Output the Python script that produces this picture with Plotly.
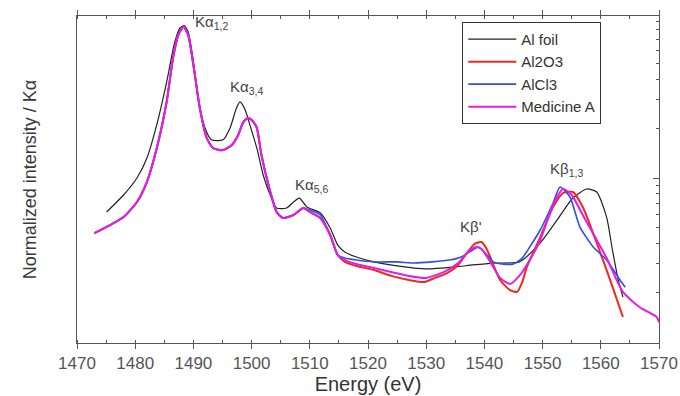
import plotly.graph_objects as go

# ---------------- data ----------------
foil_E = [1475.1, 1478, 1480.3, 1482, 1483.7, 1485.4, 1486.8, 1487.7, 1488.4, 1489.1,
          1490, 1490.8, 1492, 1493.1, 1495.1, 1496.3, 1497.4, 1498, 1498.9, 1499.7,
          1500.9, 1502, 1503.2, 1504.3, 1506, 1507.2, 1508.2, 1509.5, 1511.8, 1513.5,
          1514.8, 1516, 1518, 1521, 1525, 1530, 1535, 1538, 1541.5, 1546,
          1549.6, 1552.5, 1555.2, 1557.6, 1559.3, 1561, 1562, 1563, 1563.8]
foil_I = [0.0621, 0.0788, 0.100, 0.132, 0.211, 0.385, 0.675, 0.822, 0.849, 0.780,
          0.512, 0.308, 0.202, 0.171, 0.171, 0.202, 0.267, 0.291, 0.260, 0.211,
          0.152, 0.104, 0.0788, 0.0656, 0.0656, 0.0714, 0.0755, 0.0666, 0.0612, 0.0496,
          0.0390, 0.0354, 0.0330, 0.0308, 0.0291, 0.0279, 0.0287, 0.0295, 0.0303, 0.0308,
          0.0402, 0.0555, 0.0755, 0.0857, 0.0822, 0.0578, 0.0364, 0.0239, 0.0188]

ka_E = [1473, 1475.7, 1478, 1480.3, 1482, 1483.7, 1485.4, 1486.5, 1487.4, 1488.3,
        1489.1, 1490, 1491.1, 1492.3, 1493.4, 1495.1, 1496.6, 1497.7, 1498.6, 1499.4,
        1500.3, 1500.9, 1501.7, 1502.9, 1504.3, 1505.4, 1507.2, 1508.9, 1510, 1511.8,
        1513.5, 1514.8]
ka_I = [0.0462, 0.0517, 0.0578, 0.0714, 0.0945, 0.152, 0.291, 0.539, 0.745, 0.837,
        0.745, 0.489, 0.267, 0.175, 0.152, 0.148, 0.159, 0.183, 0.220, 0.232,
        0.220, 0.202, 0.138, 0.0906, 0.0621, 0.0570, 0.0595, 0.0656, 0.0621, 0.0570,
        0.0449, 0.0339]
ka_I_blue = [0.0462, 0.0517, 0.0578, 0.0714, 0.0945, 0.152, 0.291, 0.539, 0.745, 0.837,
             0.745, 0.489, 0.267, 0.175, 0.152, 0.148, 0.159, 0.183, 0.220, 0.232,
             0.220, 0.202, 0.138, 0.0906, 0.0621, 0.0570, 0.0595, 0.0656, 0.0638, 0.0595,
             0.0449, 0.0339]

al2o3_E = ka_E + [1516, 1518, 1521, 1524, 1527, 1529.6, 1531.5, 1533.6, 1535.5, 1537,
                  1538.3, 1539.5, 1540.3, 1541, 1542.7, 1544.4, 1545.6, 1546.5, 1547.3, 1549.6,
                  1551.8, 1553.5, 1555.2, 1556.9, 1559.3, 1561.6, 1563.8]
al2o3_I = ka_I + [0.0308, 0.0291, 0.0275, 0.0253, 0.0239, 0.0232, 0.0246, 0.0263, 0.0295, 0.0349,
                  0.0396, 0.0407, 0.0374, 0.0330, 0.0239, 0.0207, 0.0202, 0.0232, 0.0287, 0.0436,
                  0.0666, 0.0810, 0.0822, 0.0666, 0.0402, 0.0239, 0.0142]

alcl3_E = ka_E + [1516, 1518, 1521, 1525, 1528, 1531, 1534, 1536, 1538, 1539,
                  1540, 1541.5, 1543, 1545, 1546.5, 1548, 1549.6, 1551.8, 1553, 1554.7,
                  1556.4, 1558.7, 1561, 1563.3, 1564.2]
alcl3_I = ka_I_blue + [0.0325, 0.0316, 0.0308, 0.0308, 0.0303, 0.0308, 0.0316, 0.0330, 0.0364, 0.0380,
                       0.0354, 0.0308, 0.0299, 0.0299, 0.0325, 0.0390, 0.0482, 0.0704, 0.0881, 0.0766,
                       0.0503, 0.0380, 0.0316, 0.0239, 0.0216]

med_E = ka_E + [1516, 1518, 1521, 1524, 1527, 1530, 1533, 1535.5, 1537, 1538.5,
                1539.5, 1541, 1542.7, 1544.4, 1546, 1548, 1549.6, 1551.8, 1553.5, 1555,
                1556.9, 1559.3, 1561, 1563.8, 1566.7, 1569.6, 1570]
med_I = ka_I + [0.0316, 0.0299, 0.0283, 0.0267, 0.0253, 0.0246, 0.0267, 0.0303, 0.0349, 0.0380,
                0.0369, 0.0308, 0.0246, 0.0226, 0.0253, 0.0325, 0.0419, 0.0685, 0.0857, 0.0788,
                0.0595, 0.0419, 0.0325, 0.0202, 0.0163, 0.0142, 0.0132]

series_names = ["Al foil", "Al2O3", "AlCl3", "Medicine A"]
x_ticks = [1470, 1480, 1490, 1500, 1510, 1520, 1530, 1540, 1550, 1560, 1570]

# ---------------- figure ----------------
FONT = "Liberation Sans, Arial, sans-serif"
SM = 0.6
fig = go.Figure()
fig.add_trace(go.Scatter(x=foil_E, y=foil_I, name=series_names[0], mode="lines",
                         line=dict(color="#222222", width=1.2, shape="spline", smoothing=SM)))
fig.add_trace(go.Scatter(x=al2o3_E, y=al2o3_I, name=series_names[1], mode="lines",
                         line=dict(color="#f0281e", width=2.0, shape="spline", smoothing=SM)))
fig.add_trace(go.Scatter(x=alcl3_E, y=alcl3_I, name=series_names[2], mode="lines",
                         line=dict(color="#2f4fe6", width=1.6, shape="spline", smoothing=SM)))
fig.add_trace(go.Scatter(x=med_E, y=med_I, name=series_names[3], mode="lines", yaxis="y2",
                         line=dict(color="#e21ee6", width=2.0, shape="spline", smoothing=SM)))

yr = [-2.006, -0.012]
minor_vals = [k * 0.01 for k in range(2, 10)] + [k * 0.1 for k in range(2, 10)]

fig.update_layout(
    width=680, height=396,
    margin=dict(l=77, r=21, t=16, b=53, autoexpand=False),
    paper_bgcolor="white", plot_bgcolor="white",
    font=dict(family=FONT, color="#444444"),
    xaxis=dict(range=[1470, 1570], tickvals=x_ticks, ticks="outside", ticklen=5,
               tickcolor="#555", showline=True, linecolor="#555", linewidth=1,
               mirror="ticks", showgrid=False, zeroline=False, automargin=False,
               tickfont=dict(size=17, color="#555"),
               minor=dict(ticks="inside", ticklen=3, dtick=5, tickcolor="#555"),
               title=dict(text="Energy (eV)", font=dict(size=20, color="#333"), standoff=4)),
    yaxis=dict(type="log", range=yr, showticklabels=False, ticks="", showline=True,
               linecolor="#555", linewidth=1, mirror=True, showgrid=False, zeroline=False,
               automargin=False,
               title=dict(text="Normalized intensity / Kα", font=dict(size=18, color="#3a3a3a"),
                          standoff=34)),
    yaxis2=dict(type="log", range=yr, overlaying="y", side="right", showticklabels=False,
                ticks="inside", ticklen=6, tickcolor="#555", tickvals=[0.01, 0.1, 1],
                minor=dict(ticks="inside", ticklen=3, tickvals=minor_vals, tickcolor="#555"),
                showline=False, showgrid=False, zeroline=False),
    legend=dict(x=0.662, y=0.982, xanchor="left", yanchor="top",
                bgcolor="white", bordercolor="#333", borderwidth=1, itemwidth=48,
                font=dict(size=15, color="#333"), tracegroupgap=0),
    showlegend=True,
)

ann = [
    ("Kα<sub>1,2</sub>", 1489.9, -0.049),
    ("Kα<sub>3,4</sub>", 1495.9, -0.451),
    ("Kα<sub>5,6</sub>", 1507.1, -1.043),
    ("Kβ'", 1535.5, -1.293),
    ("Kβ<sub>1,3</sub>", 1550.9, -0.951),
]
for txt, ax_, ay_ in ann:
    fig.add_annotation(x=ax_, y=ay_, xref="x", yref="y", text=txt, showarrow=False,
                       xanchor="left", yanchor="middle",
                       font=dict(size=15, color="#444", family=FONT))

fig.write_html("out.html", config={"displayModeBar": False},
               post_script="document.body.style.margin='0';document.body.style.overflow='hidden';")
